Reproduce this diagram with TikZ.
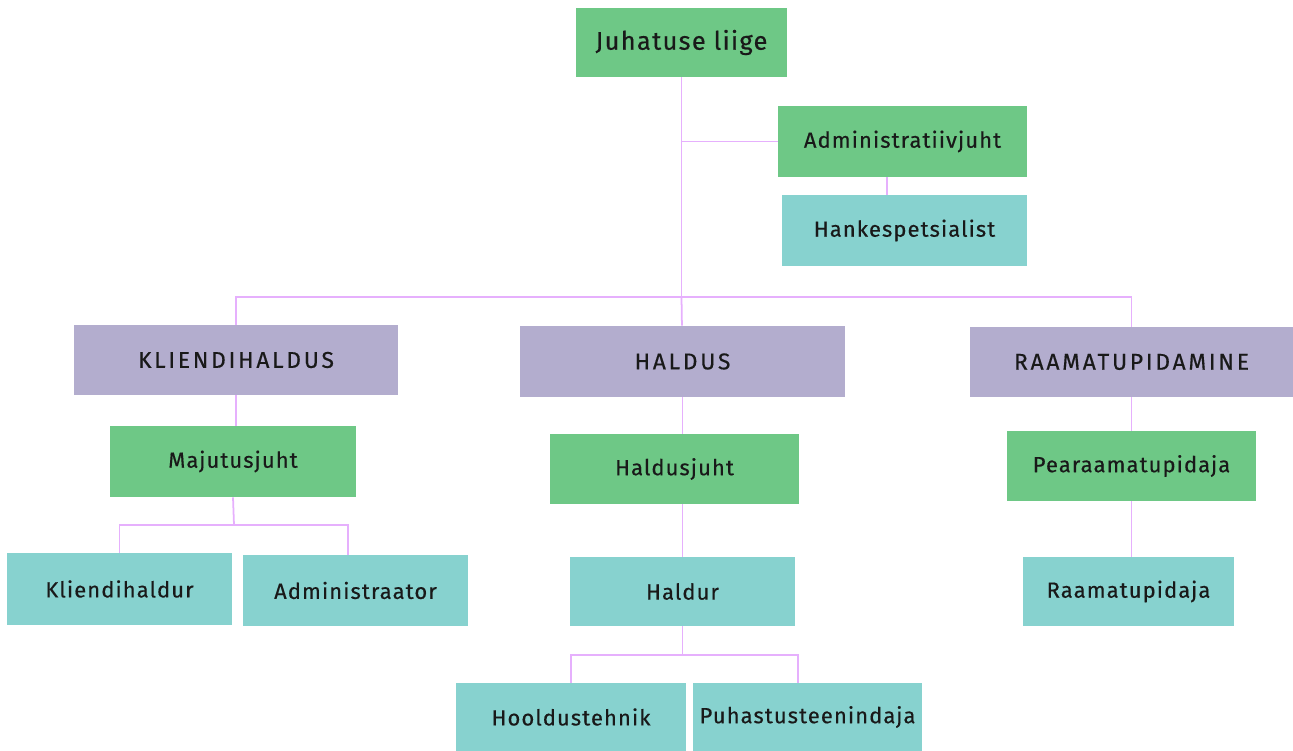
\documentclass[tikz,border=0pt]{standalone}
\usepackage{fontspec}
\setmainfont{Fira Sans}[LetterSpace=5,FakeBold=0.4]
\usetikzlibrary{positioning}

\definecolor{leadgreen}{HTML}{6EC886}
\definecolor{staffteal}{HTML}{87D2CF}
\definecolor{deptlilac}{HTML}{B3ADCE}
\definecolor{linkpink}{HTML}{E6B0FD}

\begin{document}
\begin{tikzpicture}[x=1cm,y=1cm]
\tikzset{
  orgbox/.style={rectangle,inner sep=0pt,minimum height=1.40cm,text=black!90,font=\fontsize{12.5}{14}\selectfont},
  leadbox/.style={orgbox,fill=leadgreen},
  staffbox/.style={orgbox,fill=staffteal},
  deptbox/.style={orgbox,fill=deptlilac,font=\fontsize{13}{15}\selectfont\addfontfeature{LetterSpace=12}},
  orgline/.style={draw=linkpink,line width=1pt}
}
\useasboundingbox (0,0) rectangle (25.86,15.02);
% top
\node[leadbox,minimum width=4.22cm,minimum height=1.38cm,font=\fontsize{14.5}{16}\selectfont] (n_juhatus) at (13.63,14.17) {Juhatuse liige};
\node[leadbox,minimum width=4.98cm,minimum height=1.42cm] (n_admin) at (18.05,12.19) {Administratiivjuht};
\node[staffbox,minimum width=4.90cm,minimum height=1.42cm] (n_hanke) at (18.09,10.41) {Hankespetsialist};
% departments
\node[deptbox,minimum width=6.48cm] (n_kliendi) at (4.72,7.82) {KLIENDIHALDUS};
\node[deptbox,minimum width=6.50cm,minimum height=1.42cm] (n_haldus) at (13.65,7.79) {HALDUS};
\node[deptbox,minimum width=6.46cm] (n_raamat) at (22.63,7.78) {RAAMATUPIDAMINE};
% heads
\node[leadbox,minimum width=4.92cm,minimum height=1.42cm] (n_majutus) at (4.66,5.79) {Majutusjuht};
\node[leadbox,minimum width=4.98cm] (n_haldusjuht) at (13.49,5.64) {Haldusjuht};
\node[leadbox,minimum width=4.98cm] (n_pearaamat) at (22.63,5.70) {Pearaamatupidaja};
% staff
\node[staffbox,minimum width=4.50cm,minimum height=1.44cm] (n_kliendihaldur) at (2.39,3.24) {Kliendihaldur};
\node[staffbox,minimum width=4.50cm,minimum height=1.42cm] (n_administraator) at (7.11,3.21) {Administraator};
\node[staffbox,minimum width=4.50cm,minimum height=1.38cm] (n_haldur) at (13.65,3.19) {Haldur};
\node[staffbox,minimum width=4.22cm,minimum height=1.38cm] (n_raamatupidaja) at (22.57,3.19) {Raamatupidaja};
\node[staffbox,minimum width=4.60cm,minimum height=1.36cm] (n_hooldus) at (11.42,0.68) {Hooldustehnik};
\node[staffbox,minimum width=4.58cm,minimum height=1.36cm] (n_puhastus) at (16.15,0.68) {Puhastusteenindaja};
% bus points
\coordinate (c_main) at (13.63,9.08);
\coordinate (c_maj) at (4.68,4.52);
\coordinate (c_haldur) at (13.65,1.92);
% links
\draw[orgline] (n_juhatus) -- (c_main);
\draw[orgline] (n_admin.west) -- (n_admin.west -| n_juhatus);
\draw[orgline] ([xshift=-0.31cm]n_admin.south) -- ([xshift=-0.31cm]n_admin.south |- n_hanke.north);
\draw[orgline] (n_kliendi) |- (c_main) -| (n_raamat);
\draw[orgline] (c_main) -- (n_haldus);
\draw[orgline] (n_kliendi.south) -- (n_kliendi.south |- n_majutus.north);
\draw[orgline] (n_majutus.south) -- (c_maj);
\draw[orgline] (n_kliendihaldur) |- (c_maj) -| ([xshift=-0.15cm]n_administraator.north);
\draw[orgline] (n_haldus.south) -- (n_haldus.south |- n_haldusjuht.north);
\draw[orgline] (n_haldusjuht.south -| n_haldur) -- (n_haldur);
\draw[orgline] (n_raamat.south) -- (n_raamat.south |- n_pearaamat.north);
\draw[orgline] (n_pearaamat) -- (n_pearaamat |- n_raamatupidaja.north);
\draw[orgline] (n_haldur) -- (c_haldur);
\draw[orgline] (n_hooldus) |- (c_haldur) -| ([xshift=-0.19cm]n_puhastus.north);
\end{tikzpicture}
\end{document}
